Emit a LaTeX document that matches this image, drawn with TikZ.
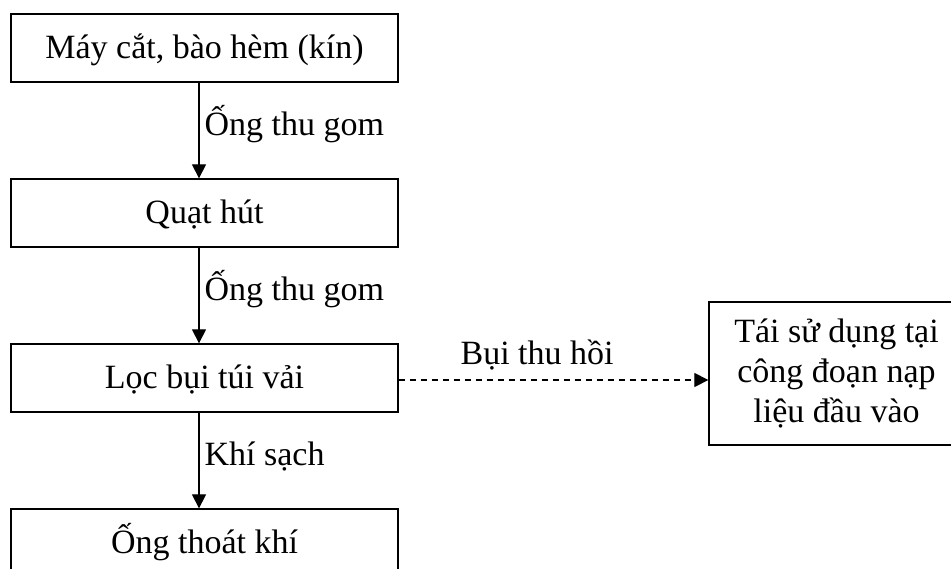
\documentclass[tikz,border=0pt]{standalone}
\usepackage{fontspec}
\setmainfont{Liberation Serif}
\usetikzlibrary{arrows.meta,calc}
\begin{document}
\begin{tikzpicture}[x=1pt,y=-1pt,
  txt/.style={font=\fontsize{34}{40}\selectfont},
  flowbox/.style={txt, draw, line width=1.3pt, minimum width=387pt, minimum height=68pt,
    inner sep=0pt, text height=26pt, text depth=6pt},
  sidebox/.style={txt, draw, line width=1.3pt, minimum width=255pt, minimum height=143pt,
    inner sep=0pt, align=center},
  arr/.style={line width=1.2pt, -{Triangle[width=14pt,length=14pt]}},
  lbl/.style={txt, inner sep=0pt, anchor=base west, xshift=5pt, yshift=-4.5pt}
]
\useasboundingbox (0,0) rectangle (951,568);

% main vertical chain
\node[flowbox] (b1) at (204.5,48)  {Máy cắt, bào hèm (kín)};
\node[flowbox] (b2) at (204.5,213) {Quạt hút};
\node[flowbox] (b3) at (204.5,378) {Lọc bụi túi vải};
\node[flowbox] (b4) at (204.5,543) {Ống thoát khí};

% side branch for recovered dust
\node[sidebox] (rb) at (836.5,373.5) {Tái sử dụng tại\\công đoạn nạp\\liệu đầu vào};

% connectors
\draw[arr] ([xshift=-5.5pt]b1.south) -- node[lbl]{Ống thu gom} ([xshift=-5.5pt]b2.north);
\draw[arr] ([xshift=-5.5pt]b2.south) -- node[lbl]{Ống thu gom} ([xshift=-5.5pt]b3.north);
\draw[arr] ([xshift=-5.5pt]b3.south) -- node[lbl]{Khí sạch} ([xshift=-5.5pt]b4.north);
\draw[arr, dash pattern=on 6.5pt off 4.5pt] ([yshift=-2pt]b3.east) --
  node[txt, pos=0.447, anchor=base, inner sep=0pt, yshift=15.5pt]{Bụi thu hồi}
  ([yshift=-2pt]b3.east -| rb.west);
\end{tikzpicture}
\end{document}
